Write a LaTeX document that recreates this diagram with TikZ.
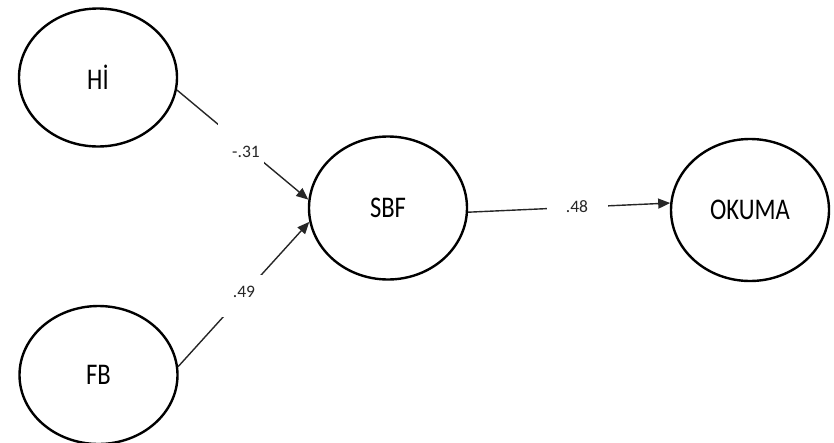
\documentclass[tikz,border=0pt]{standalone}
\usepackage{fontspec}
\setmainfont{Carlito}
\usetikzlibrary{shapes.geometric,arrows.meta}
\newcommand\nodetext[1]{\fontsize{30}{30}\selectfont\scalebox{0.82}[1]{#1}}
\tikzset{
  latent/.style={ellipse, draw=black, line width=2.4pt, fill=white,
    minimum width=158pt, minimum height=138pt, inner sep=0pt},
  path/.style={draw=black!85, line width=1.4pt,
    -{Triangle[length=12pt,width=10pt]}},
  gapbox/.style={fill=white, inner sep=0pt},
  lbl/.style={font=\fontsize{17.5}{17.5}\selectfont, text=black!85, inner sep=0pt}
}
\begin{document}
\begin{tikzpicture}[x=1pt,y=-1pt]
\useasboundingbox (0,0) rectangle (834,442);
\node[latent] (hi) at (98,77.5) {\nodetext{Hİ}};
\node[latent] (fb) at (98.5,375) {\nodetext{FB}};
\node[latent, minimum height=143pt] (sbf) at (388,208) {\nodetext{SBF}};
\node[latent, minimum height=142pt] (okuma) at (750,210) {\nodetext{OKUMA}};
\draw[path] (hi.-9) -- node[gapbox, pos=0.49, minimum width=46pt, minimum height=44pt] (g1) {} (sbf.174);
\draw[path] (fb.6) -- node[gapbox, pos=0.485, minimum width=40pt, minimum height=42pt] (g2) {} (sbf.190);
\draw[path] (sbf.-3) -- node[gapbox, pos=0.54, minimum width=61pt, minimum height=20pt] (g3) {} (okuma.175);
\node[lbl] (l1) at (246,152) {-.31};
\node[lbl] (l2) at (244,292) {.49};
\node[lbl] (l3) at (577,207) {.48};
\end{tikzpicture}
\end{document}
